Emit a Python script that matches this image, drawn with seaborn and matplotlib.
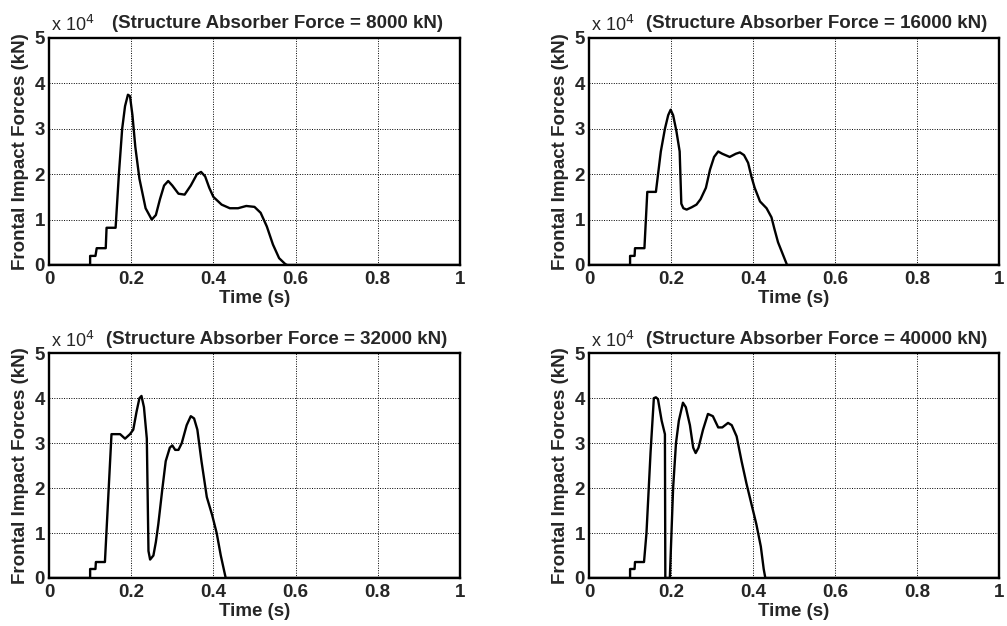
import matplotlib
matplotlib.use('Agg')
import matplotlib.pyplot as plt
import seaborn as sns

# forces in units of 10^4 kN, time in s
t_8000 = [0, 0.1, 0.1, 0.113, 0.116, 0.138, 0.14, 0.162, 0.17, 0.178, 0.185, 0.192, 0.197, 0.203,
          0.21, 0.22, 0.235, 0.25, 0.26, 0.27, 0.28, 0.29, 0.30, 0.315, 0.33, 0.345, 0.36, 0.37,
          0.38, 0.39, 0.40, 0.42, 0.44, 0.46, 0.48, 0.50, 0.515, 0.53, 0.545, 0.56, 0.575, 0.58, 1.0]
f_8000 = [0, 0, 0.2, 0.2, 0.37, 0.37, 0.82, 0.82, 2.0, 3.0, 3.5, 3.75, 3.72, 3.3,
          2.6, 1.9, 1.25, 1.0, 1.1, 1.45, 1.75, 1.85, 1.75, 1.57, 1.55, 1.75, 2.0, 2.05,
          1.95, 1.7, 1.5, 1.33, 1.25, 1.25, 1.3, 1.28, 1.15, 0.85, 0.45, 0.15, 0.02, 0, 0]

t_16000 = [0, 0.1, 0.1, 0.111, 0.112, 0.135, 0.142, 0.163, 0.175, 0.185, 0.193, 0.199, 0.205,
           0.213, 0.221, 0.225, 0.23, 0.238, 0.25, 0.262, 0.272, 0.285, 0.295, 0.305, 0.315,
           0.325, 0.343, 0.358, 0.368, 0.378, 0.388, 0.396, 0.404, 0.417, 0.433, 0.445, 0.452,
           0.461, 0.472, 0.483, 1.0]
f_16000 = [0, 0, 0.2, 0.2, 0.37, 0.37, 1.61, 1.61, 2.5, 3.0, 3.3, 3.42, 3.3,
           2.95, 2.5, 1.35, 1.25, 1.22, 1.27, 1.33, 1.45, 1.7, 2.1, 2.38, 2.5,
           2.45, 2.38, 2.45, 2.48, 2.42, 2.25, 1.95, 1.7, 1.4, 1.25, 1.05, 0.8,
           0.5, 0.25, 0, 0]

t_32000 = [0, 0.1, 0.1, 0.113, 0.114, 0.136, 0.152, 0.173, 0.185, 0.197, 0.205, 0.213, 0.22,
           0.225, 0.231, 0.238, 0.242, 0.246, 0.254, 0.26, 0.266, 0.276, 0.284, 0.294, 0.3,
           0.307, 0.315, 0.323, 0.335, 0.345, 0.353, 0.361, 0.371, 0.384, 0.397, 0.408, 0.418,
           0.43, 1.0]
f_32000 = [0, 0, 0.2, 0.2, 0.355, 0.355, 3.2, 3.2, 3.1, 3.2, 3.3, 3.7, 4.0,
           4.05, 3.8, 3.1, 0.6, 0.41, 0.5, 0.8, 1.2, 2.0, 2.6, 2.9, 2.95,
           2.85, 2.85, 3.0, 3.4, 3.6, 3.55, 3.3, 2.6, 1.8, 1.4, 1.0, 0.5,
           0, 0]

t_40000 = [0, 0.1, 0.1, 0.111, 0.112, 0.134, 0.14, 0.15, 0.158, 0.163, 0.168, 0.177, 0.185,
           0.186, 0.197, 0.205, 0.212, 0.219, 0.229, 0.236, 0.246, 0.254, 0.26, 0.267, 0.278,
           0.29, 0.302, 0.315, 0.325, 0.339, 0.348, 0.36, 0.372, 0.384, 0.40, 0.408, 0.419,
           0.426, 0.43, 1.0]
f_40000 = [0, 0, 0.2, 0.2, 0.355, 0.355, 1.0, 2.8, 4.0, 4.02, 3.98, 3.5, 3.2,
           0, 0, 2.0, 3.0, 3.5, 3.9, 3.8, 3.4, 2.9, 2.78, 2.9, 3.3,
           3.65, 3.6, 3.35, 3.35, 3.45, 3.4, 3.15, 2.6, 2.1, 1.5, 1.2, 0.7,
           0.2, 0, 0]

absorber_forces = [8000, 16000, 32000, 40000]
series = [(t_8000, f_8000), (t_16000, f_16000), (t_32000, f_32000), (t_40000, f_40000)]

x_ticks = [0, 0.2, 0.4, 0.6, 0.8, 1]
x_tick_labels = ['0', '0.2', '0.4', '0.6', '0.8', '1']
y_ticks = [0, 1, 2, 3, 4, 5]

sns.set_style('white')
plt.rcParams['font.family'] = ['Liberation Sans', 'DejaVu Sans']

fig = plt.figure(figsize=(10.07, 6.26), dpi=100)
positions = [
    [0.0487, 0.5767, 0.408, 0.3626],
    [0.585, 0.5767, 0.407, 0.3626],
    [0.0487, 0.0767, 0.408, 0.359],
    [0.585, 0.0767, 0.407, 0.359],
]

for pos, force, (t, f) in zip(positions, absorber_forces, series):
    ax = fig.add_axes(pos)
    sns.lineplot(x=t, y=f, ax=ax, color='black', sort=False, estimator=None, lw=1.7)
    ax.set_xlim(0, 1)
    ax.set_ylim(0, 5)
    ax.set_xticks(x_ticks)
    ax.set_xticklabels(x_tick_labels)
    ax.set_yticks(y_ticks)
    ax.grid(True, color='black', linestyle=(0, (1, 1.5)), linewidth=0.7)
    for s in ax.spines.values():
        s.set_color('black')
        s.set_linewidth(1.7)
    ax.tick_params(direction='in', length=4, width=1.2, labelsize=13.5)
    ax.tick_params(axis='x', pad=4)
    ax.tick_params(axis='y', pad=3)
    for lab in ax.get_xticklabels() + ax.get_yticklabels():
        lab.set_fontweight('bold')
    ax.set_xlabel('Time (s)', fontsize=13.5, fontweight='bold', labelpad=2)
    ax.set_ylabel('Frontal Impact Forces (kN)', fontsize=13.5, fontweight='bold', labelpad=4)
    ax.set_title(f'(Structure Absorber Force = {force} kN)', fontsize=13.5,
                 fontweight='bold', x=0.555, pad=7)
    ax.text(0.005, 1.012, r'x 10$^4$', transform=ax.transAxes, fontsize=13,
            ha='left', va='bottom')

fig.savefig('out.png', dpi=100)
